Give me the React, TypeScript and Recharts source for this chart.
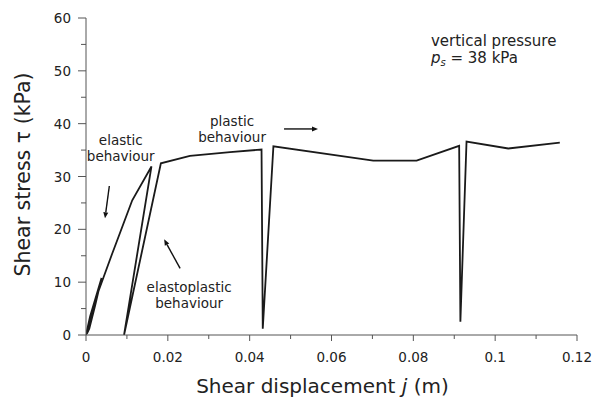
import React from "react";
import {
  LineChart,
  Line,
  XAxis,
  YAxis,
  ReferenceDot,
  ReferenceLine,
  Label,
} from "recharts";

// shear displacement j (m) and shear stress tau (kPa)
const jValues = [
  0, 0.001, 0.0038, 0.0022, 0.0008, 0.0002, 0.003, 0.0063, 0.0083, 0.0113, 0.016,
  0.0093, 0.0183, 0.0254, 0.0352, 0.0429, 0.0432, 0.0458, 0.0702, 0.0808, 0.0912,
  0.0915, 0.093, 0.1032, 0.1158,
];
const tauValues = [
  0, 3.5, 10.8, 5.5, 1.2, 0.2, 8.2, 15.2, 19.3, 25.5, 31.9,
  0, 32.5, 33.9, 34.6, 35.1, 1.2, 35.7, 33.0, 33.0, 35.8,
  2.5, 36.6, 35.3, 36.4,
];

const xTicks = [0, 0.01, 0.02, 0.03, 0.04, 0.05, 0.06, 0.07, 0.08, 0.09, 0.1, 0.11, 0.12];
const yTicks = [0, 5, 10, 15, 20, 25, 30, 35, 40, 45, 50, 55, 60];

// annotations: [j, tau] anchor in data space
const notes = [
  { at: [0.0085, 36], lines: ["elastic", "behaviour"] },
  { at: [0.0252, 8.1], lines: ["elastoplastic", "behaviour"] },
  { at: [0.0357, 39.6], lines: ["plastic", "behaviour"] },
];
// arrows: from -> to (head at "to")
const arrows = [
  { from: [0.0057, 28.2], to: [0.00464, 22.1] },
  { from: [0.023, 12.6], to: [0.0191, 18.1] },
  { from: [0.0484, 39.0], to: [0.0567, 39.0] },
];
const pressureAt = [0.0843, 54.7];

const data = jValues.map((j, i) => ({ j, tau: tauValues[i] }));

const FONT = "'DejaVu Sans', sans-serif";
const AXIS = "#555";
const TEXT = "#222";

function XTick({ x, y, payload }: any) {
  const v = payload.value;
  const major = Math.round(v * 100) % 2 === 0;
  return (
    <g>
      <line x1={x} y1={y} x2={x} y2={y + (major ? 6 : 4)} stroke={AXIS} strokeWidth={1} />
      {major && (
        <text x={x} y={y + 27} textAnchor="middle" fontSize={13.5} fontFamily={FONT} fill={TEXT}>
          {String(Number(v.toFixed(2)))}
        </text>
      )}
    </g>
  );
}

function YTick({ x, y, payload }: any) {
  const v = payload.value;
  const major = v % 10 === 0;
  return (
    <g>
      <line x1={x - (major ? 8 : 5)} y1={y} x2={x} y2={y} stroke={AXIS} strokeWidth={1} />
      {major && (
        <text x={x - 15} y={y + 5} textAnchor="end" fontSize={13.5} fontFamily={FONT} fill={TEXT}>
          {v}
        </text>
      )}
    </g>
  );
}

function Arrow({ x1, y1, x2, y2 }: any) {
  const a = Math.atan2(y2 - y1, x2 - x1);
  const L = 6;
  const W = 2.5;
  const bx = x2 - L * Math.cos(a);
  const by = y2 - L * Math.sin(a);
  const px = -Math.sin(a) * W;
  const py = Math.cos(a) * W;
  return (
    <g>
      <line x1={x1} y1={y1} x2={bx} y2={by} stroke="#111" strokeWidth={1.4} />
      <polygon points={`${x2},${y2} ${bx + px},${by + py} ${bx - px},${by - py}`} fill="#111" />
    </g>
  );
}

export default function App() {
  return (
    <div style={{ position: "absolute", left: 0, top: 0, background: "#fff" }}>
      <LineChart
        width={592}
        height={400}
        data={data}
        margin={{ top: 18, right: 15, bottom: 0, left: 0 }}
      >
        <XAxis
          type="number"
          dataKey="j"
          domain={[0, 0.12]}
          ticks={xTicks}
          interval={0}
          height={65}
          tickSize={0}
          tickMargin={0}
          tickLine={false}
          tick={<XTick />}
          stroke={AXIS}
          allowDataOverflow
        >
          <Label
            content={({ viewBox }: any) => (
              <text
                x={viewBox.x + viewBox.width / 2 - 9}
                y={viewBox.y + 58}
                textAnchor="middle"
                fontSize={20}
                fontFamily={FONT}
                fill={TEXT}
              >
                Shear displacement <tspan fontStyle="italic">j</tspan> (m)
              </text>
            )}
          />
        </XAxis>
        <YAxis
          type="number"
          domain={[0, 60]}
          ticks={yTicks}
          interval={0}
          width={86}
          tickSize={0}
          tickMargin={0}
          tickLine={false}
          tick={<YTick />}
          stroke={AXIS}
          allowDataOverflow
        >
          <Label
            content={({ viewBox }: any) => {
              const cx = viewBox.x + 23;
              const cy = viewBox.y + viewBox.height / 2 - 2;
              return (
                <text
                  x={cx}
                  y={cy}
                  transform={`rotate(-90 ${cx} ${cy})`}
                  textAnchor="middle"
                  dominantBaseline="central"
                  fontSize={20.5}
                  fontFamily={FONT}
                  fill={TEXT}
                >
                  Shear stress τ (kPa)
                </text>
              );
            }}
          />
        </YAxis>
        <Line
          type="linear"
          dataKey="tau"
          stroke="#1a1a1a"
          strokeWidth={1.8}
          dot={false}
          activeDot={false}
          isAnimationActive={false}
        />
        {arrows.map((a, i) => (
          <ReferenceLine
            key={"arr" + i}
            segment={[
              { x: a.from[0], y: a.from[1] },
              { x: a.to[0], y: a.to[1] },
            ]}
            shape={(p: any) => <Arrow {...p} />}
          />
        ))}
        {notes.map((n, i) => (
          <ReferenceDot
            key={"note" + i}
            x={n.at[0]}
            y={n.at[1]}
            r={0}
            shape={(p: any) => (
              <text
                x={p.cx}
                y={p.cy}
                textAnchor="middle"
                fontSize={13.5}
                fontFamily={FONT}
                fill={TEXT}
              >
                {n.lines.map((s, k) => (
                  <tspan key={k} x={p.cx} dy={k === 0 ? 0 : 16}>
                    {s}
                  </tspan>
                ))}
              </text>
            )}
          />
        ))}
        <ReferenceDot
          x={pressureAt[0]}
          y={pressureAt[1]}
          r={0}
          shape={(p: any) => (
            <text x={p.cx} y={p.cy} fontSize={15} fontFamily={FONT} fill={TEXT}>
              <tspan x={p.cx}>vertical pressure</tspan>
              <tspan x={p.cx} dy={17} fontStyle="italic">p</tspan>
              <tspan fontSize={10} dy={3} fontStyle="italic">s</tspan>
              <tspan dy={-3}> = 38 kPa</tspan>
            </text>
          )}
        />
      </LineChart>
    </div>
  );
}
